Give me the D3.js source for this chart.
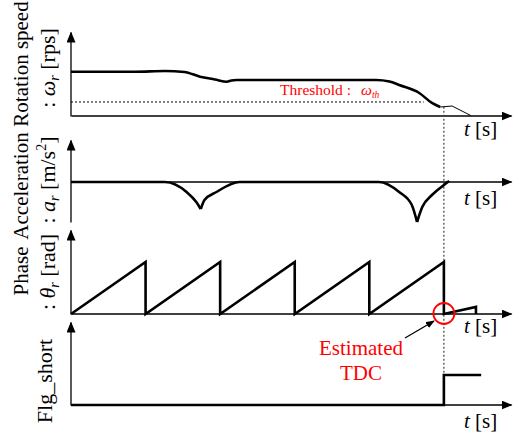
<!DOCTYPE html>
<html>
<head>
<meta charset="utf-8">
<script src="https://cdn.jsdelivr.net/npm/d3@7"></script>
<style>
  body { margin: 0; background: #fff; }
  svg { display: block; font-family: "Liberation Serif", "Times New Roman", serif; }
</style>
</head>
<body>
<div id="chart"></div>
<script>
// ----------------------------DATA-------------------------------//
// time in rotation periods, TDC estimated at t = 5
const speedT = [0, 0.86, 1.26, 1.52, 1.73, 1.93, 2.09, 2.15, 2.22, 4.09, 4.27, 4.40, 4.67, 4.84, 4.95];
const speedV = [5.27, 5.27, 5.36, 5.24, 4.68, 4.35, 4.08, 4.23, 4.29, 4.29, 4.11, 3.69, 2.74, 1.55, 1.07];
const speedTailT = [4.95, 5.11, 5.36];
const speedTailV = [1.07, 1.19, 0.06];
const threshold = 1.67;
const thresholdEnd = 4.73;

const accelT = [0, 1.26, 1.55, 1.68, 1.74, 1.79, 1.95, 2.26, 4.13, 4.40, 4.57, 4.64, 4.71, 4.84, 5.0, 5.07];
const accelV = [0, 0, -1.0, -2.0, -2.7, -1.8, -1.0, 0, 0, -1.0, -2.3, -4.0, -2.5, -1.3, -0.3, 0.1];

const phaseT = [0, 1, 1, 2, 2, 3, 3, 4, 4, 5, 5, 5.43, 5.43];
const phaseV = [0, 6.28, 0, 6.28, 0, 6.28, 0, 6.28, 0, 6.28, 0, 0.86, 0];

const flagT = [0, 5, 5, 5.5];
const flagV = [0, 0, 1, 1];

const tdcT = 5;

const nameLabels = ['Rotation speed', 'Acceleration', 'Phase'];
const unitLabels = [
  { sym: 'ω', sub: 'r', unit: ' [rps]' },
  { sym: 'a', sub: 'r', unit: ' [m/s', sup: '2', tail: ']' },
  { sym: 'θ', sub: 'r', unit: ' [rad]' },
];
const flagLabel = 'Flg_short';

// ----------------------------SCALES-----------------------------//
const width = 515;
const height = 432;

const x = d3.scaleLinear().domain([0, 5.9]).range([71, 511]);

const ySpeed = d3.scaleLinear().domain([0, 10]).range([116, 32]);
const yAccel = d3.scaleLinear().domain([-4, 4.2]).range([222, 140]);
const yPhase = d3.scaleLinear().domain([0, 10.15]).range([314, 230]);
const yFlag = d3.scaleLinear().domain([0, 2.77]).range([405, 322]);

const panels = [
  { y: ySpeed, labelCy: [64, 68], tY: 136 },
  { y: yAccel, labelCy: [186, 180], tY: 205 },
  { y: yPhase, labelCy: [271, 272], tY: 333 },
  { y: yFlag, labelCy: [381], tY: 428 },
];

const svg = d3.select('#chart').append('svg')
  .attr('width', width)
  .attr('height', height);

const defs = svg.append('defs');
const marker = (id, len, half) => defs.append('marker')
  .attr('id', id)
  .attr('markerUnits', 'userSpaceOnUse')
  .attr('viewBox', `0 ${-half} ${len} ${half * 2}`)
  .attr('refX', len - 1)
  .attr('refY', 0)
  .attr('markerWidth', len)
  .attr('markerHeight', half * 2)
  .attr('orient', 'auto')
  .append('path')
  .attr('d', `M0,${-half}L${len},0L0,${half}Z`)
  .attr('fill', '#000');
marker('arrow', 11, 4.5);
marker('arrowSmall', 9, 3.5);

// -----------------------------AXES------------------------------//
panels.forEach((p) => {
  const y0 = p.y(0);
  svg.append('g')
    .attr('transform', `translate(0,${y0 - 0.5})`)
    .call(d3.axisBottom(x).tickValues([]).tickSizeOuter(0))
    .select('.domain')
    .attr('stroke-width', 1.3)
    .attr('marker-end', 'url(#arrow)');

  svg.append('g')
    .attr('transform', `translate(${x(0) - 0.5},0)`)
    .call(d3.axisLeft(p.y).tickValues([]).tickSizeOuter(0))
    .select('.domain')
    .attr('stroke-width', 1.3)
    .attr('marker-end', 'url(#arrow)');

  const tl = svg.append('text')
    .attr('x', 464)
    .attr('y', p.tY)
    .attr('font-size', 21);
  tl.append('tspan').attr('font-style', 'italic').text('t');
  tl.append('tspan').text(' [s]');
});

// ----------------------------LINES------------------------------//
const pts = (ts, vs) => ts.map((t, i) => [t, vs[i]]);

// dotted TDC guide
svg.append('line')
  .attr('x1', x(tdcT)).attr('x2', x(tdcT))
  .attr('y1', ySpeed(1.1)).attr('y2', yFlag(1))
  .attr('stroke', '#444')
  .attr('stroke-width', 1.2)
  .attr('stroke-dasharray', '2,2');

// threshold
svg.append('line')
  .attr('x1', x(0)).attr('x2', x(thresholdEnd))
  .attr('y1', ySpeed(threshold)).attr('y2', ySpeed(threshold))
  .attr('stroke', '#000')
  .attr('stroke-width', 1)
  .attr('stroke-dasharray', '2,2');

const thr = svg.append('text')
  .attr('x', 280)
  .attr('y', 95)
  .attr('font-size', 15.5)
  .attr('fill', '#ff0000');
thr.append('tspan').text('Threshold :');
thr.append('tspan').attr('x', 361).attr('font-style', 'italic').text('ω');
thr.append('tspan').attr('font-style', 'italic').attr('font-size', 9.5).attr('dy', 3).text('th');

// speed
const speedLine = d3.line()
  .x(d => x(d[0]))
  .y(d => ySpeed(d[1]))
  .curve(d3.curveMonotoneX);

svg.append('path')
  .attr('d', speedLine(pts(speedT, speedV)))
  .attr('fill', 'none')
  .attr('stroke', '#000')
  .attr('stroke-width', 2.6);

svg.append('path')
  .attr('d', d3.line().x(d => x(d[0])).y(d => ySpeed(d[1]))(pts(speedTailT, speedTailV)))
  .attr('fill', 'none')
  .attr('stroke', '#000')
  .attr('stroke-width', 1);

// acceleration, split at the cusps
const accelPts = pts(accelT, accelV);
const accelSegs = [[accelPts[0]]];
accelPts.slice(1).forEach((d, i) => {
  const prev = accelPts[i];
  const next = accelPts[i + 2];
  accelSegs[accelSegs.length - 1].push(d);
  if (next && d[1] < prev[1] && d[1] < next[1]) accelSegs.push([d]);
});
const accelLine = d3.line()
  .x(d => x(d[0]))
  .y(d => yAccel(d[1]))
  .curve(d3.curveMonotoneX);

svg.selectAll('.accel')
  .data(accelSegs)
  .enter()
  .append('path')
  .attr('class', 'accel')
  .attr('d', d => accelLine(d))
  .attr('fill', 'none')
  .attr('stroke', '#000')
  .attr('stroke-width', 2.6);

// phase
svg.append('path')
  .attr('d', d3.line().x(d => x(d[0])).y(d => yPhase(d[1]))(pts(phaseT, phaseV)))
  .attr('fill', 'none')
  .attr('stroke', '#000')
  .attr('stroke-width', 2.6)
  .attr('stroke-linejoin', 'miter');

// flag
svg.append('path')
  .attr('d', d3.line().x(d => x(d[0])).y(d => yFlag(d[1]))(pts(flagT, flagV)))
  .attr('fill', 'none')
  .attr('stroke', '#000')
  .attr('stroke-width', 2.6);

// ------------------------ANNOTATION-----------------------------//
svg.append('circle')
  .attr('cx', x(tdcT))
  .attr('cy', yPhase(0) - 0.5)
  .attr('r', 10.5)
  .attr('fill', 'none')
  .attr('stroke', '#ff0000')
  .attr('stroke-width', 1.8);

svg.append('line')
  .attr('x1', 405).attr('y1', 338)
  .attr('x2', 434).attr('y2', 321)
  .attr('stroke', '#000')
  .attr('stroke-width', 1.3)
  .attr('marker-end', 'url(#arrowSmall)');

svg.append('text')
  .attr('x', 361).attr('y', 355)
  .attr('font-size', 21)
  .attr('fill', '#ff0000')
  .attr('text-anchor', 'middle')
  .text('Estimated');
svg.append('text')
  .attr('x', 361).attr('y', 380)
  .attr('font-size', 21)
  .attr('fill', '#ff0000')
  .attr('text-anchor', 'middle')
  .text('TDC');

// ----------------------------LABELS-----------------------------//
nameLabels.forEach((name, i) => {
  svg.append('text')
    .attr('transform', `translate(28,${panels[i].labelCy[0]}) rotate(-90)`)
    .attr('text-anchor', 'middle')
    .attr('font-size', 21)
    .text(name);
});

unitLabels.forEach((u, i) => {
  const t = svg.append('text')
    .attr('transform', `translate(55,${panels[i].labelCy[1]}) rotate(-90)`)
    .attr('text-anchor', 'middle')
    .attr('font-size', 22);
  t.append('tspan').text(': ');
  t.append('tspan').attr('font-style', 'italic').text(u.sym);
  t.append('tspan').attr('font-style', 'italic').attr('font-size', 14).attr('dy', 4).text(u.sub);
  t.append('tspan').attr('dy', -4).text(u.unit);
  if (u.sup) {
    t.append('tspan').attr('font-size', 14).attr('dy', -9).text(u.sup);
    t.append('tspan').attr('dy', 9).text(u.tail);
  }
});

svg.append('text')
  .attr('transform', `translate(52,${panels[3].labelCy[0]}) rotate(-90)`)
  .attr('text-anchor', 'middle')
  .attr('font-size', 22)
  .text(flagLabel);
</script>
</body>
</html>
